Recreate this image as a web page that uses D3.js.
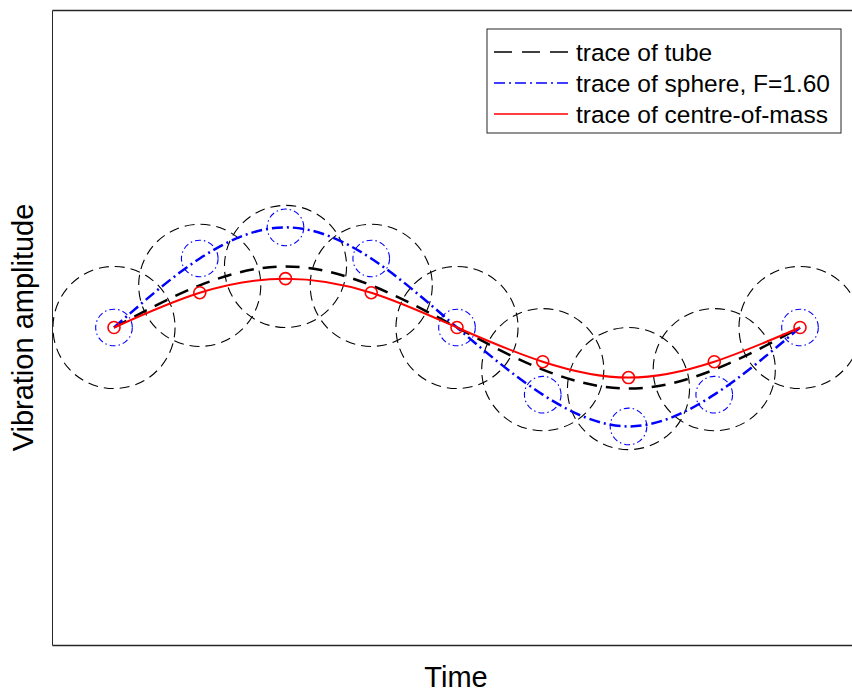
<!DOCTYPE html>
<html>
<head>
<meta charset="utf-8">
<script src="https://cdn.jsdelivr.net/npm/d3@7"></script>
<style>
	body { margin: 0; background: #fff; }
	svg { display: block; font-family: "Liberation Sans", Arial, sans-serif; }
	.axis text { display: none; }
</style>
</head>
<body>
<div id="chart"></div>
<script>
// Data
var times = [0, 1, 2, 3, 4, 5, 6, 7, 8];
var tubeTrace = [0, 0.69, 1.0, 0.69, 0, -0.69, -1.0, -0.69, 0];
var sphereTrace = [0, 1.13, 1.64, 1.13, 0, -1.10, -1.62, -1.10, 0];
var comTrace = [0, 0.57, 0.80, 0.57, 0, -0.56, -0.82, -0.56, 0];
var legendLabels = ["trace of tube", "trace of sphere, F=1.60", "trace of centre-of-mass"];

// Globals
var width = 852;
var height = 694;
var svg = d3.select("#chart")
	.append("svg")
	.attr("width", width)
	.attr("height", height);

var margin = {t:10, r:-10, b:49, l:52};
var tubeRadius = 1.0;    // in amplitude units
var sphereRadius = 0.3;

var x = d3.scaleLinear()
	.domain([-0.723, 8.723])
	.range([margin.l, width - margin.r]);

var y = d3.scaleLinear()
	.domain([-5.2, 5.2])
	.range([height - margin.b, margin.t]);

var unitPx = y(0) - y(1);

function pts(vals) {
	return times.map(function(t, i) { return {t: t, v: vals[i]}; });
}

var line = d3.line()
	.x(function(d) { return x(d.t); })
	.y(function(d) { return y(d.v); })
	.curve(d3.curveNatural);

// tube circles
svg.append("g").selectAll("circle")
	.data(pts(tubeTrace))
	.enter().append("circle")
		.attr("cx", function(d) { return x(d.t); })
		.attr("cy", function(d) { return y(d.v); })
		.attr("r", tubeRadius * unitPx)
		.style("fill", "none")
		.style("stroke", "#000")
		.style("stroke-width", 1.1)
		.style("stroke-dasharray", "10,6");

// sphere circles
svg.append("g").selectAll("circle")
	.data(pts(sphereTrace))
	.enter().append("circle")
		.attr("cx", function(d) { return x(d.t); })
		.attr("cy", function(d) { return y(d.v); })
		.attr("r", sphereRadius * unitPx)
		.style("fill", "none")
		.style("stroke", "#0000ff")
		.style("stroke-width", 1.1)
		.style("stroke-dasharray", "6,3,1.5,3");

// traces
svg.append("path")
	.datum(pts(tubeTrace))
	.attr("d", line)
	.style("fill", "none")
	.style("stroke", "#000")
	.style("stroke-width", 2.5)
	.style("stroke-dasharray", "14,9");

svg.append("path")
	.datum(pts(sphereTrace))
	.attr("d", line)
	.style("fill", "none")
	.style("stroke", "#0000ff")
	.style("stroke-width", 2.5)
	.style("stroke-dasharray", "11,4,2,4");

svg.append("path")
	.datum(pts(comTrace))
	.attr("d", line)
	.style("fill", "none")
	.style("stroke", "#ff0000")
	.style("stroke-width", 2);

svg.append("g").selectAll("circle")
	.data(pts(comTrace))
	.enter().append("circle")
		.attr("cx", function(d) { return x(d.t); })
		.attr("cy", function(d) { return y(d.v); })
		.attr("r", 6)
		.style("fill", "none")
		.style("stroke", "#ff0000")
		.style("stroke-width", 1.6);

// axes box (no ticks)
var axisColor = "#262626";
svg.append("g")
	.attr("class", "axis")
	.attr("transform", "translate(0," + y.range()[0] + ")")
	.call(d3.axisBottom(x).tickValues([]).tickSizeOuter(0));
svg.append("g")
	.attr("class", "axis")
	.attr("transform", "translate(0," + y.range()[1] + ")")
	.call(d3.axisTop(x).tickValues([]).tickSizeOuter(0));
svg.append("g")
	.attr("class", "axis axis--y")
	.attr("transform", "translate(" + margin.l + ",0)")
	.call(d3.axisLeft(y).tickValues([]).tickSizeOuter(0));
svg.selectAll(".axis path")
	.style("stroke", axisColor)
	.style("stroke-width", 1.6);
svg.select(".axis--y path")
	.style("stroke-width", 1);

// axis labels
svg.append("text")
	.attr("x", (margin.l + 860) / 2)
	.attr("y", 687)
	.attr("text-anchor", "middle")
	.style("font-size", "29px")
	.style("fill", "#000")
	.text("Time");

svg.append("text")
	.attr("transform", "translate(33," + y(0) + ") rotate(-90)")
	.attr("text-anchor", "middle")
	.style("font-size", "29px")
	.style("fill", "#000")
	.text("Vibration amplitude");

// legend
var legend = svg.append("g").attr("transform", "translate(487,29)");
legend.append("rect")
	.attr("width", 354)
	.attr("height", 104)
	.style("fill", "#fff")
	.style("stroke", axisColor)
	.style("stroke-width", 1);

var legendStyles = [
	{color: "#000", dash: "18,10"},
	{color: "#0000ff", dash: "11,4,2,4"},
	{color: "#ff0000", dash: null}
];

var rows = legend.selectAll(".row")
	.data(legendLabels)
	.enter().append("g")
		.attr("class", "row")
		.attr("transform", function(d, i) { return "translate(0," + (23 + i * 31) + ")"; });

rows.append("line")
	.attr("x1", 7)
	.attr("x2", 81)
	.style("stroke", function(d, i) { return legendStyles[i].color; })
	.style("stroke-width", 1.6)
	.style("stroke-dasharray", function(d, i) { return legendStyles[i].dash; });

rows.append("text")
	.attr("x", 89)
	.attr("dy", "0.35em")
	.style("font-size", "24.5px")
	.style("fill", "#000")
	.text(function(d) { return d; });
</script>
</body>
</html>
